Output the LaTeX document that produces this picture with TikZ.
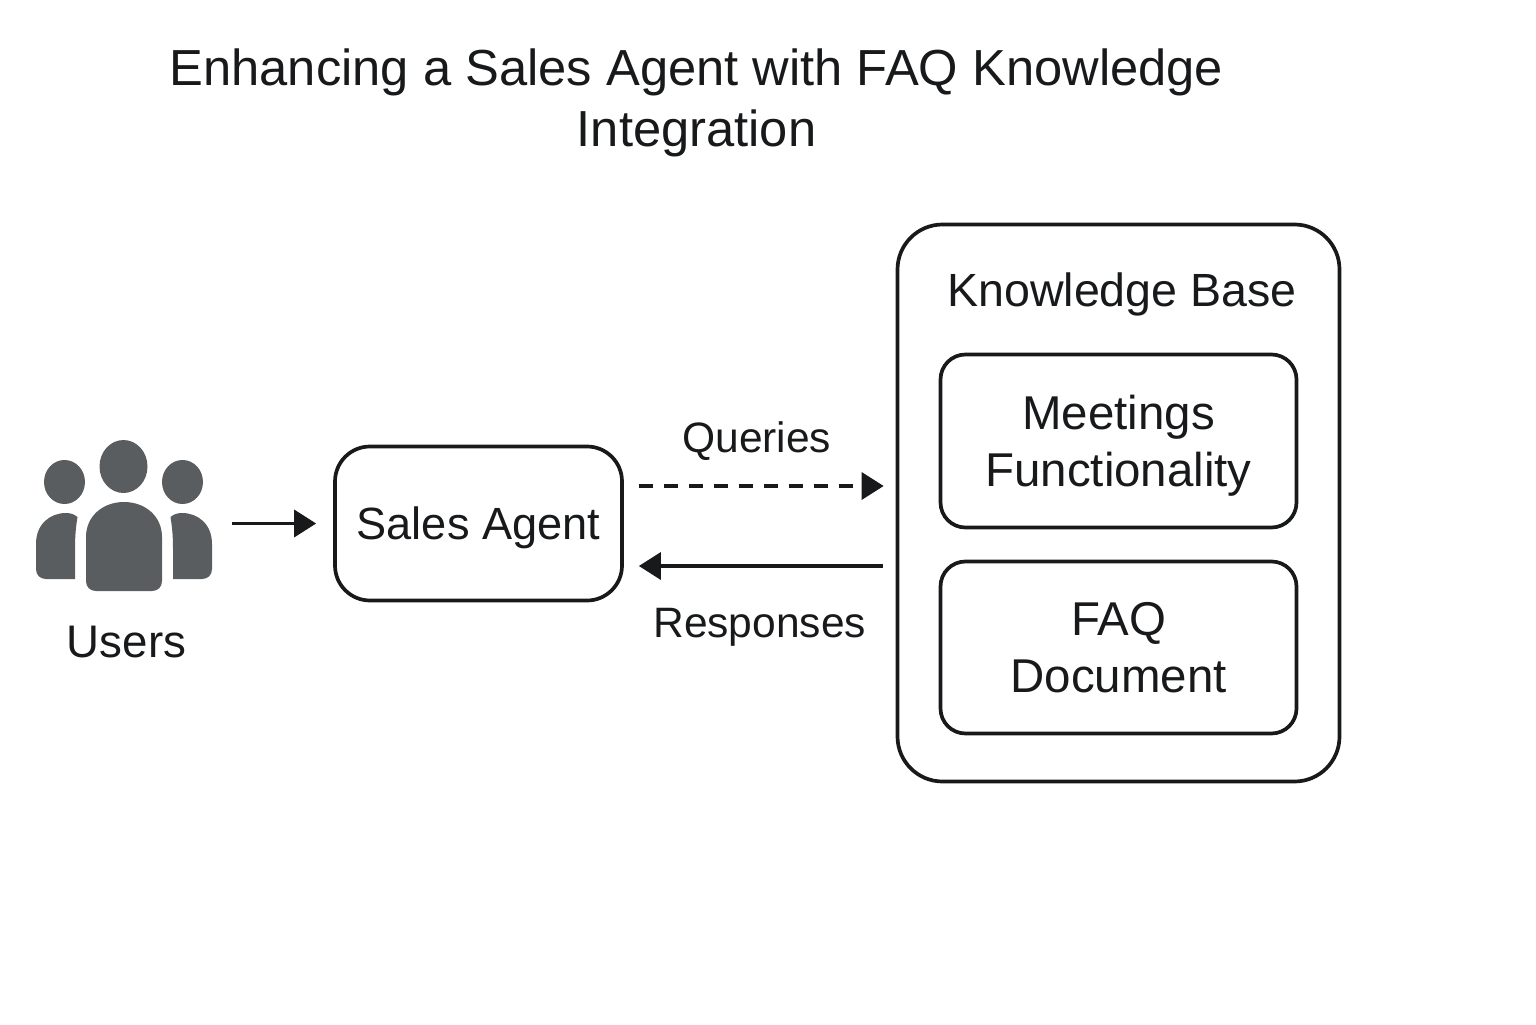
\documentclass[tikz,border=0pt]{standalone}
\usepackage{fontspec}
\setmainfont{Liberation Sans}
\usetikzlibrary{arrows.meta}
\definecolor{inkcol}{HTML}{17191B}
\definecolor{iconcol}{HTML}{5A5D5F}

\begin{document}
\begin{tikzpicture}[
    box/.style={draw=inkcol, line width=0.037cm, align=center, text=inkcol, text depth=0pt, font=\fontsize{13.5}{16.2}\selectfont},
    label/.style={text=inkcol, font=\fontsize{12.1}{15}\selectfont, inner sep=0pt},
    arrow/.style={-{Triangle[length=0.22cm, width=0.27cm]}, draw=inkcol, line width=0.035cm},
    icon/.style={fill=iconcol, draw=none}
]
\useasboundingbox (0, 0) rectangle (15.36, 10.24);

% Title
\node[text=inkcol, align=center, inner sep=0pt, font=\fontsize{14.42}{17.3}\selectfont] (title) at (6.965, 9.21) {Enhancing a Sales Agent with FAQ Knowledge\\Integration};

% Users icon
\fill[icon] (1.235, 5.575) ellipse [x radius=0.24, y radius=0.265];
\fill[icon] (0.645, 5.42) ellipse [x radius=0.205, y radius=0.22];
\fill[icon] (1.825, 5.42) ellipse [x radius=0.205, y radius=0.22];
\fill[icon] (0.86, 4.43) -- (0.86, 4.87) .. controls (0.86, 5.08) and (1.03, 5.22) .. (1.24, 5.22) .. controls (1.45, 5.22) and (1.62, 5.08) .. (1.62, 4.87) -- (1.62, 4.43) .. controls (1.62, 4.37) and (1.58, 4.33) .. (1.52, 4.33) -- (0.96, 4.33) .. controls (0.90, 4.33) and (0.86, 4.37) .. (0.86, 4.43) -- cycle;
\fill[icon] (0.36, 4.55) -- (0.36, 4.80) .. controls (0.36, 5.00) and (0.50, 5.11) .. (0.66, 5.11) .. controls (0.70, 5.11) and (0.74, 5.10) .. (0.775, 5.07) .. controls (0.755, 4.95) and (0.75, 4.85) .. (0.75, 4.75) -- (0.75, 4.45) -- (0.46, 4.45) .. controls (0.40, 4.45) and (0.36, 4.49) .. (0.36, 4.55) -- cycle;
\fill[icon] (2.12, 4.55) -- (2.12, 4.80) .. controls (2.12, 5.00) and (1.98, 5.11) .. (1.82, 5.11) .. controls (1.78, 5.11) and (1.74, 5.10) .. (1.705, 5.07) .. controls (1.725, 4.95) and (1.73, 4.85) .. (1.73, 4.75) -- (1.73, 4.45) -- (2.02, 4.45) .. controls (2.08, 4.45) and (2.12, 4.49) .. (2.12, 4.55) -- cycle;
\node[minimum width=1.76cm, minimum height=0.1cm, inner sep=0pt] (usericon) at (1.24, 5.005) {};
\node[label, font=\fontsize{13}{15}\selectfont] (users) at (1.265, 3.82) {Users};

% Main boxes
\node[box, rounded corners=0.35cm, minimum width=2.87cm, minimum height=1.54cm, font=\fontsize{12.85}{15}\selectfont] (agent) at (4.785, 5.005) {Sales Agent};
\node[box, rounded corners=0.45cm, minimum width=4.42cm, minimum height=5.57cm] (kb) at (11.185, 5.21) {};
\node[text=inkcol, font=\fontsize{13.25}{16}\selectfont, inner sep=0pt] (kbtitle) at (11.22, 7.295) {Knowledge Base};
\node[box, rounded corners=0.25cm, minimum width=3.56cm, minimum height=1.73cm] (meetings) at (11.185, 5.83) {Meetings\\Functionality};
\node[box, rounded corners=0.25cm, minimum width=3.56cm, minimum height=1.72cm] (faq) at (11.185, 3.765) {FAQ\\Document};

% Connections
\draw[arrow, shorten <=0.19cm, shorten >=0.17cm] (usericon) -- (agent);
\draw[arrow, dash pattern=on 0.14cm off 0.11cm, shorten <=0.15cm, shorten >=0.12cm] ([yshift=0.375cm]agent.east) -- ([yshift=0.375cm]agent.east -| kb.west) node[midway, above=0.24cm, xshift=-0.03cm, label] {Queries};
\draw[arrow, shorten <=0.13cm, shorten >=0.15cm] ([yshift=-0.425cm]agent.east -| kb.west) -- ([yshift=-0.425cm]agent.east) node[midway, below=0.40cm, label] {Responses};

\end{tikzpicture}
\end{document}
